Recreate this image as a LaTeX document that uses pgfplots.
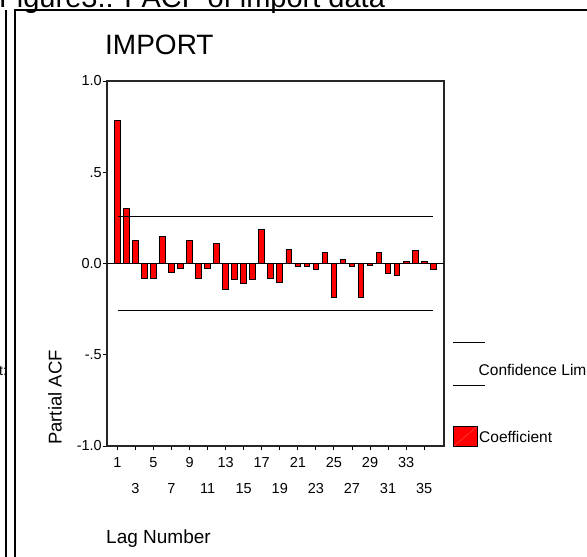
\documentclass[border=0pt]{standalone}
\usepackage{fontspec}
\setmainfont{Liberation Sans}
\usepackage{pgfplots}
\pgfplotsset{compat=1.18}
\pgfplotstableread{
lag pacf
1 0.785
2 0.299
3 0.124
4 -0.082
5 -0.082
6 0.150
7 -0.049
8 -0.026
9 0.124
10 -0.082
11 -0.026
12 0.109
13 -0.144
14 -0.089
15 -0.111
16 -0.089
17 0.188
18 -0.082
19 -0.105
20 0.077
21 -0.016
22 -0.016
23 -0.035
24 0.062
25 -0.184
26 0.024
27 -0.016
28 -0.184
29 -0.010
30 0.062
31 -0.057
32 -0.066
33 0.009
34 0.071
35 0.009
36 -0.035
}\pacftable
\begin{document}
\begin{tikzpicture}
\useasboundingbox (0bp,0bp) rectangle (587bp,557bp);
\clip (0bp,0bp) rectangle (587bp,557bp);
\begin{scope}[overlay]
% outer frame
\draw[line width=2bp] (5.8bp,547bp) -- (5.8bp,-2bp);
\draw[line width=2bp] (14.5bp,-2bp) -- (14.5bp,547bp) -- (590bp,547bp);
\node[anchor=base west, inner sep=0, font=\fontsize{29bp}{32bp}\selectfont] at (-1bp,549.5bp) {Figure3.: PACF of import data};
\node[anchor=base west, inner sep=0, font=\fontsize{14bp}{16bp}\selectfont] at (-1bp,181bp) {t:};
\begin{axis}[
  at={(107bp,111bp)}, anchor=south west,
  scale only axis, width=337bp, height=365bp,
  xmin=-0.15, xmax=37.2, ymin=-1, ymax=1,
  axis line style={line width=1.4bp, black!85},
  tick align=outside, major tick length=4bp,
  tick style={black, line width=0.9bp},
  xtick={1,5,...,33},
  extra x ticks={3,7,...,35},
  extra x tick style={xticklabel style={yshift=-26.6bp}},
  ytick={-1,-0.5,0,0.5,1},
  yticklabels={-1.0,-.5,0.0,.5,1.0},
  xtick pos=bottom, ytick pos=left,
  /pgf/number format/assume math mode=true,
  ticklabel style={font=\fontsize{14.5bp}{16bp}\selectfont},
  xticklabel style={anchor=center, yshift=-12.2bp},
  yticklabel style={anchor=east, inner sep=0pt, xshift=-1bp},
  clip=false,
]
\addplot[ybar, bar width=5.7bp, fill=red, draw=black, line width=0.9bp] table[x=lag, y=pacf] {\pacftable};
\addplot[black, line width=1.1bp] coordinates {(-0.15,0) (37.2,0)};
\addplot[black, line width=1.1bp] coordinates {(1.1,0.259) (36,0.259)};
\addplot[black, line width=1.1bp] coordinates {(1.1,-0.259) (36,-0.259)};
\end{axis}
\node[anchor=base west, inner sep=0, font=\fontsize{28bp}{32bp}\selectfont] at (105bp,502bp) {IMPORT};
\node[rotate=90, anchor=base, inner sep=0, font=\fontsize{18.5bp}{22bp}\selectfont] at (61.7bp,159.5bp) {Partial ACF};
\node[anchor=base west, inner sep=0, font=\fontsize{19bp}{22bp}\selectfont] at (106bp,13.7bp) {Lag Number};
% legend
\draw[line width=1bp] (453bp,214.3bp) -- (485bp,214.3bp);
\draw[line width=1bp] (453bp,171bp) -- (485bp,171bp);
\node[anchor=west, inner sep=0, font=\fontsize{15.5bp}{18bp}\selectfont] at (478.5bp,187bp) {Confidence Limits};
\draw[fill=red, draw=black, line width=0.9bp] (453.3bp,110.3bp) rectangle (477.7bp,131bp);
\draw[red!60!white, line width=0.3bp] (454bp,111bp) -- (477bp,130.3bp);
\node[anchor=west, inner sep=0, font=\fontsize{15.5bp}{18bp}\selectfont] at (479bp,120.5bp) {Coefficient};
\end{scope}
\end{tikzpicture}
\end{document}
